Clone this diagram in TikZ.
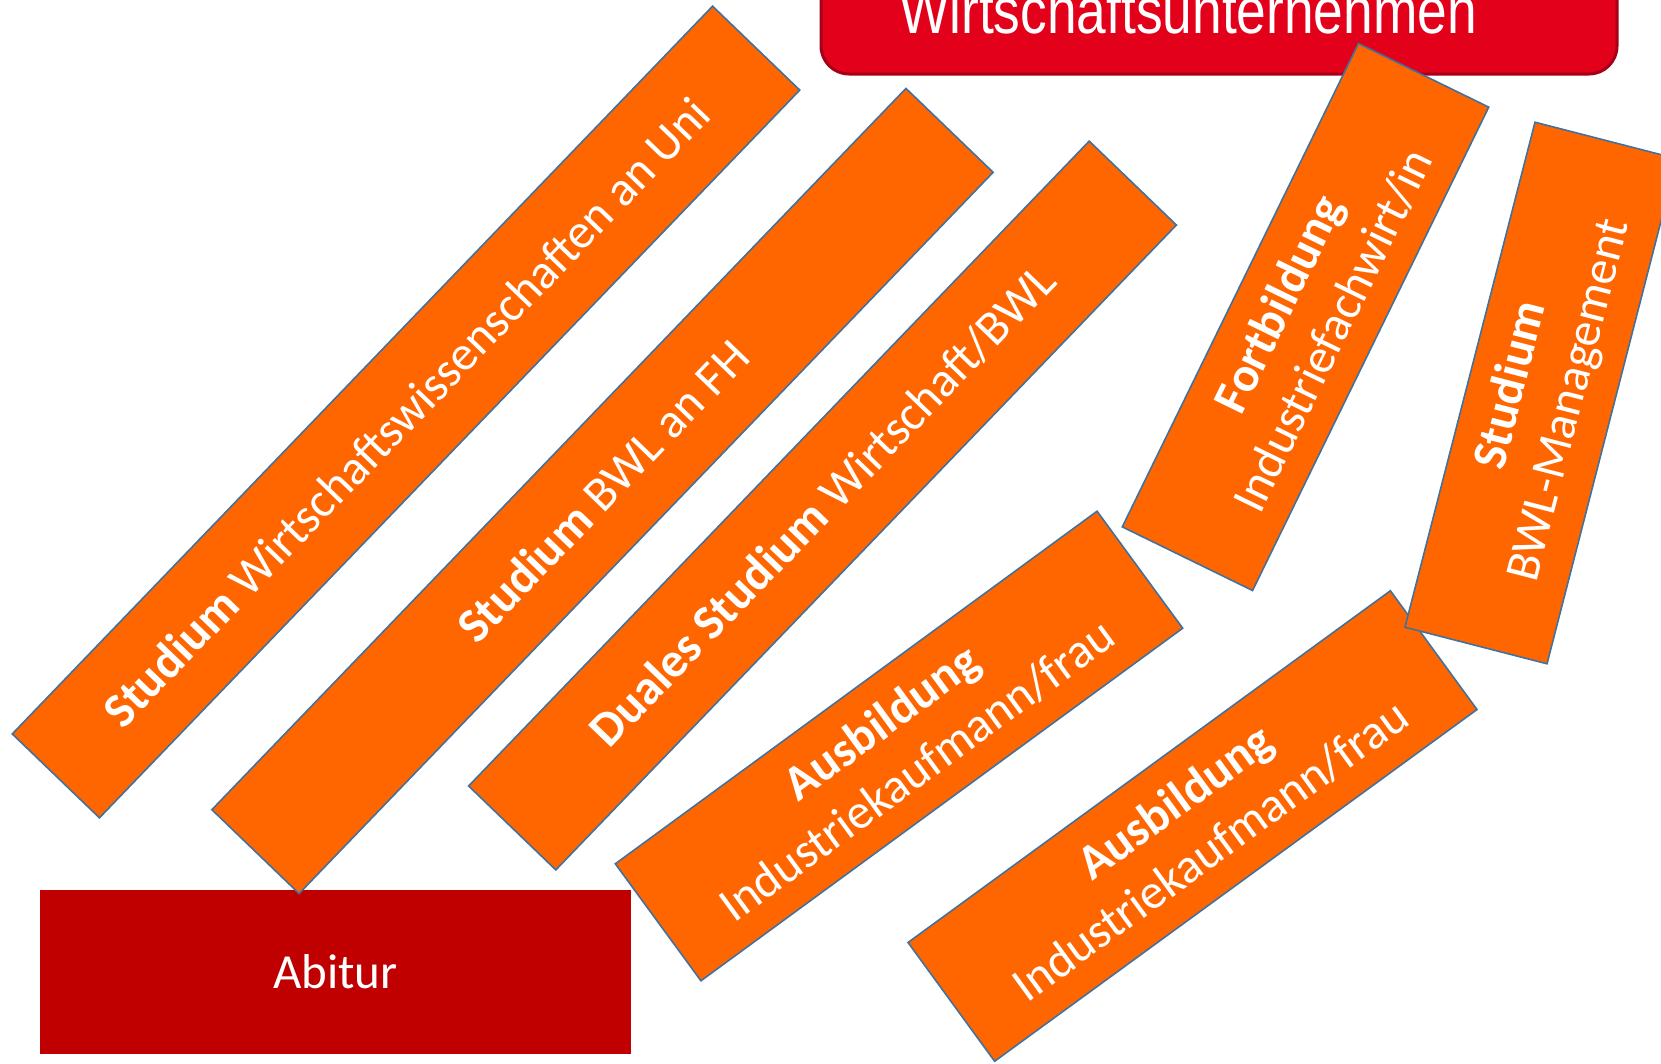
\documentclass[tikz,border=0pt]{standalone}
\usepackage{fontspec}
\setmainfont{Carlito}
\newfontfamily\narrowfont[FakeStretch=0.82]{Liberation Sans}
\definecolor{boxorange}{HTML}{FF6600}
\definecolor{boxedge}{HTML}{41719C}
\definecolor{abired}{HTML}{C00000}
\definecolor{topred}{HTML}{E2001A}
\definecolor{topedge}{HTML}{A50017}
\tikzset{
  obox/.style={draw=boxedge, line width=1.6pt, fill=boxorange, text=white,
    inner sep=0pt, align=center, font=\fontsize{49}{60}\selectfont},
}
\begin{document}
\begin{tikzpicture}[x=1pt,y=-1pt]
\useasboundingbox (0,0) rectangle (1661,1063);
% Abitur
\node[fill=abired, minimum width=591pt, minimum height=164pt, inner sep=0pt,
  text=white, font=\fontsize{49}{60}\selectfont] (abitur) at (335.5,972) {Abitur};
% top box
\draw[fill=topred, draw=topedge, line width=3pt, rounded corners=28pt]
  (821,-60) rectangle (1617,74);
\node[text=white, font=\narrowfont\fontsize{65}{70}\selectfont, anchor=base] (wu) at (1188,33) {Wirtschaftsunternehmen};
% orange boxes
\node[obox, rotate=46.1, minimum width=1010pt, minimum height=121pt] (uni) at (406,412)
  {\textbf{Studium} Wirtschaftswissenschaften an Uni};
\node[obox, rotate=46.1, minimum width=1001pt, minimum height=121pt] (fh) at (602.5,491)
  {\textbf{Studium} BWL an FH};
\node[obox, rotate=46.1, minimum width=895pt, minimum height=121pt] (dual) at (822.5,505.5)
  {\textbf{Duales Studium} Wirtschaft/BWL};
\node[obox, rotate=36.2, minimum width=597pt, minimum height=145pt] (aus1) at (899,746)
  {\textbf{Ausbildung}\\Industriekaufmann/frau};
\node[obox, rotate=36.1, minimum width=597pt, minimum height=147pt] (aus2) at (1192.5,826)
  {\textbf{Ausbildung}\\Industriekaufmann/frau};
\node[obox, rotate=63.96, minimum width=538pt, minimum height=145pt] (fort) at (1305.5,317)
  {\textbf{Fortbildung}\\Industriefachwirt/in};
\node[obox, rotate=75.56, minimum width=521.5pt, minimum height=146.7pt] (bwlm) at (1541,393)
  {\textbf{Studium}\\BWL-Management};
\end{tikzpicture}
\end{document}
